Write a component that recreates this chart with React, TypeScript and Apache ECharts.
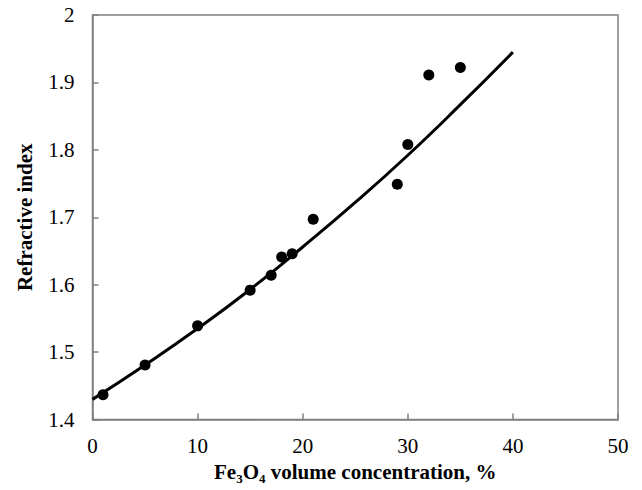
import React, { useEffect, useRef } from "react";
import * as echarts from "echarts";

const measuredX = [1, 5, 10, 15, 17, 18, 19, 21, 29, 30, 32, 35];
const measuredY = [1.437, 1.481, 1.539, 1.592, 1.614, 1.641, 1.646, 1.697, 1.749, 1.808, 1.911, 1.922];
const fitX = [0, 5, 10, 15, 20, 25, 30, 35, 40];
const fitY = [1.43, 1.481, 1.535, 1.593, 1.656, 1.722, 1.792, 1.867, 1.945];

const font = "Liberation Serif";

export default function App() {
  const ref = useRef<HTMLDivElement>(null);
  useEffect(() => {
    if (!ref.current) return;
    const chart = echarts.init(ref.current, undefined, { renderer: "svg" });
    chart.setOption({
      animation: false,
      backgroundColor: "#ffffff",
      grid: {
        left: 92.5,
        right: 24,
        top: 15,
        bottom: 67,
        show: true,
        borderColor: "#808080",
        borderWidth: 1.5,
      },
      xAxis: {
        type: "value",
        min: 0,
        max: 50,
        interval: 10,
        name: "Fe{sub|3}O{sub|4} volume concentration, %",
        nameLocation: "middle",
        nameGap: 33,
        nameTextStyle: {
          fontFamily: font,
          fontSize: 21,
          fontWeight: "bold",
          color: "#000",
          rich: {
            sub: { fontFamily: font, fontSize: 13, fontWeight: "bold", color: "#000", padding: [13, 0, 0, 0] },
          },
        },
        axisLine: { lineStyle: { color: "#808080", width: 1.5 } },
        axisTick: { inside: true, length: 6, lineStyle: { color: "#808080", width: 1.5 } },
        axisLabel: { fontFamily: font, fontSize: 21, color: "#000", margin: 16 },
        splitLine: { show: false },
      },
      yAxis: {
        type: "value",
        min: 1.4,
        max: 2,
        interval: 0.1,
        name: "Refractive index",
        nameLocation: "middle",
        nameGap: 57,
        nameTextStyle: { fontFamily: font, fontSize: 21, fontWeight: "bold", color: "#000" },
        axisLine: { lineStyle: { color: "#808080", width: 1.5 } },
        axisTick: { inside: true, length: 6, lineStyle: { color: "#808080", width: 1.5 } },
        axisLabel: {
          fontFamily: font,
          fontSize: 21,
          color: "#000",
          margin: 18,
          formatter: (v: number) => String(Math.round(v * 10) / 10),
        },
        splitLine: { show: false },
      },
      series: [
        {
          type: "line",
          data: fitX.map((x, i) => [x, fitY[i]]),
          smooth: true,
          showSymbol: false,
          lineStyle: { color: "#000", width: 3 },
          z: 2,
        },
        {
          type: "scatter",
          data: measuredX.map((x, i) => [x, measuredY[i]]),
          symbol: "circle",
          symbolSize: 11,
          itemStyle: { color: "#000", opacity: 1 },
          z: 3,
        },
      ],
    });
    return () => chart.dispose();
  }, []);
  return <div ref={ref} style={{ width: 642, height: 490, position: "absolute", left: 0, top: 0 }} />;
}
